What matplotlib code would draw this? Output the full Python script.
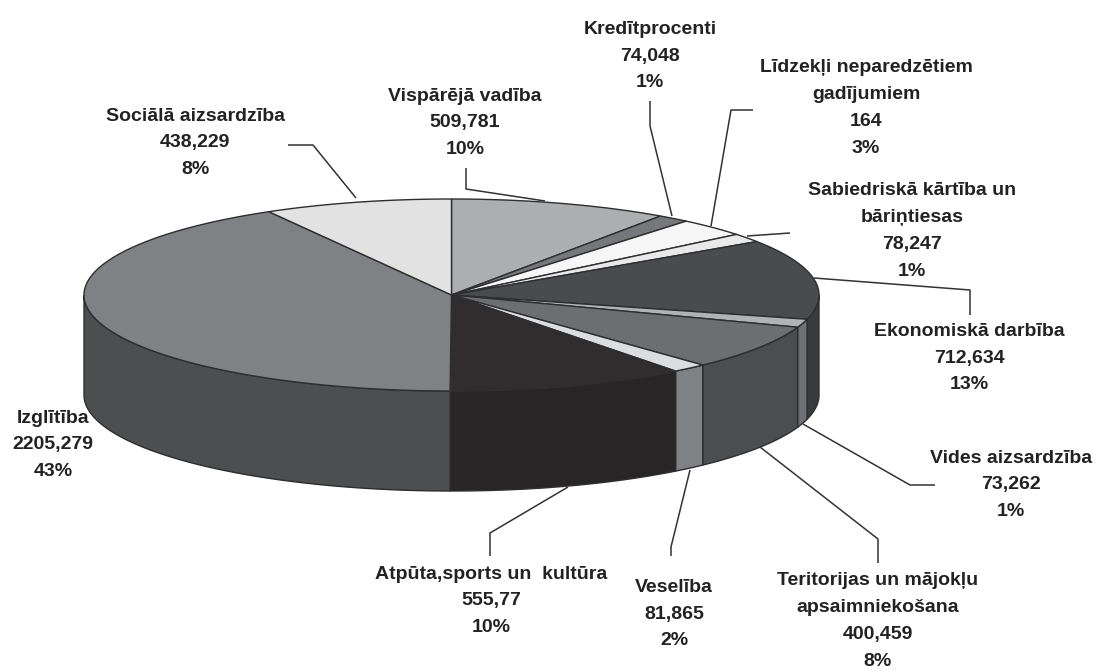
import numpy as np
import matplotlib
matplotlib.use("Agg")
import matplotlib.pyplot as plt
from matplotlib.patches import Polygon

# ---- data ----
categories = ["Vispārējā vadība", "Kredītprocenti", "Līdzekļi neparedzētiem\ngadījumiem",
              "Sabiedriskā kārtība un\nbāriņtiesas", "Ekonomiskā darbība", "Vides aizsardzība",
              "Teritorijas un mājokļu\napsaimniekošana", "Veselība", "Atpūta,sports un  kultūra",
              "Izglītība", "Sociālā aizsardzība"]
values = [509.781, 74.048, 164, 78.247, 712.634, 73.262, 400.459, 81.865, 555.77, 2205.279, 438.229]
value_labels = ["509,781", "74,048", "164", "78,247", "712,634", "73,262", "400,459", "81,865",
                "555,77", "2205,279", "438,229"]
percent_labels = ["10%", "1%", "3%", "1%", "13%", "1%", "8%", "2%", "10%", "43%", "8%"]

# ---- styles ----
top_colors = ["#adaeb0", "#77787b", "#f6f6f6", "#e9e9ea", "#4a4b4d", "#b1b2b4",
              "#6d6e71", "#dcdddf", "#2f2d2e", "#808184", "#e2e2e3"]
side_colors = ["#8a8a8c", "#5f5f62", "#c5c5c5", "#bcbcbc", "#393a3c", "#6f7074",
               "#4c4d4f", "#808184", "#272526", "#4d4e50", "#b5b5b5"]
W, H = 1105, 672
cx, cy, rx, ry, depth = 451.5, 295.0, 367.5, 96.0, 100.0
edge = "#2e2e30"
text_color = "#222222"

# label anchor (centre x, centre y of the block)
label_pos = [(465, 123), (650, 56), (866, 108), (912, 231), (969, 358), (1011, 485),
             (878, 621), (674, 614), (491, 601), (53, 445), (195, 143)]
leaders = [
    [(466, 168), (466, 189), (545, 201)],
    [(650, 101), (650, 126), (672, 216)],
    [(753, 110), (731, 110), (711, 226)],
    [(790, 233), (747, 236)],
    [(970, 315), (970, 290), (814, 278)],
    [(935, 485), (910, 485), (803, 424)],
    [(878, 563), (878, 539), (760, 447)],
    [(671, 556), (671, 547), (690, 470)],
    [(490, 556), (490, 533), (568, 487)],
    [(288, 145), (313, 145), (356, 198)],
]

fig = plt.figure(figsize=(W / 100, H / 100), dpi=100, facecolor="white")
ax = fig.add_axes([0, 0, 1, 1])
ax.set_xlim(0, W)
ax.set_ylim(H, 0)
ax.axis("off")


def rim(theta):
    return cx + rx * np.sin(theta), cy - ry * np.cos(theta)


edges = 2 * np.pi * np.concatenate([[0], np.cumsum(values)]) / np.sum(values)

# side walls: only the front half (pi/2 .. 3pi/2) is visible
for a, b, col in zip(edges[:-1], edges[1:], side_colors):
    lo, hi = max(a, np.pi / 2), min(b, 3 * np.pi / 2)
    if hi <= lo:
        continue
    t = np.linspace(lo, hi, 120)
    x, y = rim(t)
    pts = np.r_[np.c_[x, y], np.c_[x[::-1], y[::-1] + depth]]
    ax.add_patch(Polygon(pts, closed=True, fc=col, ec=edge, lw=1.0, zorder=2))

# top faces
for a, b, col in zip(edges[:-1], edges[1:], top_colors):
    t = np.linspace(a, b, max(int((b - a) * 100), 12))
    x, y = rim(t)
    pts = np.r_[[[cx, cy]], np.c_[x, y]]
    ax.add_patch(Polygon(pts, closed=True, fc=col, ec=edge, lw=1.0, zorder=3))

for seg in leaders:
    xs, ys = zip(*seg)
    ax.plot(xs, ys, color="#333333", lw=1.1, zorder=4, solid_capstyle="butt")

for name, v, p, (lx, ly) in zip(categories, value_labels, percent_labels, label_pos):
    ax.text(lx, ly, f"{name}\n{v}\n{p}", ha="center", va="center", multialignment="center",
            family="Liberation Sans", weight="bold", fontsize=14.0, linespacing=1.76,
            color=text_color, zorder=5)

fig.savefig("out.png", dpi=100, facecolor="white")
